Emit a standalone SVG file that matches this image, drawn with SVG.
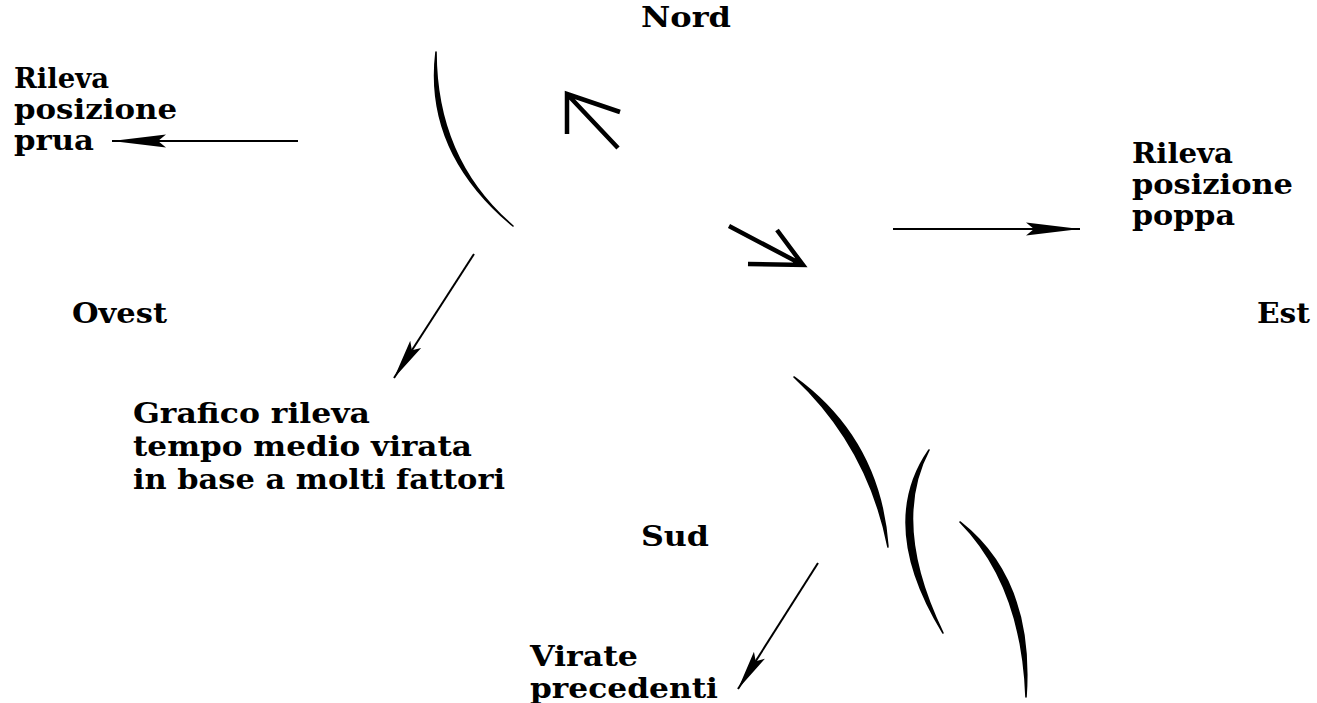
<svg xmlns="http://www.w3.org/2000/svg" width="1317" height="703" viewBox="0 0 1317 703">
<style>
text{font-family:"DejaVu Serif","Liberation Serif",serif;font-weight:bold;font-size:28px;fill:#000}
.thin{stroke:#000;stroke-width:2;fill:none}
.bold{stroke:#000;stroke-width:4.5;fill:none;stroke-linecap:butt}
.brush{fill:#000;stroke:#000;stroke-width:1.6;stroke-linejoin:round;stroke-linecap:round}
</style>
<defs>
<marker id="headL" markerUnits="userSpaceOnUse" markerWidth="60" markerHeight="16" viewBox="0 0 60 16" refX="56" refY="8" orient="auto">
<path d="M56,8 L2,1.5 L10,8 L2,14.5 Z" fill="#000"/>
</marker>
<marker id="headS" markerUnits="userSpaceOnUse" markerWidth="46" markerHeight="16" viewBox="0 0 46 16" refX="42" refY="8" orient="auto">
<path d="M42,8 L2,1.5 L9,8 L2,14.5 Z" fill="#000"/>
</marker>
</defs>
<rect width="1317" height="703" fill="#fff"/>
<g id="connectors">
<line class="thin" x1="298" y1="141" x2="112" y2="141" marker-end="url(#headL)"/>
<line class="thin" x1="893" y1="229" x2="1080" y2="229" marker-end="url(#headL)"/>
<line class="thin" x1="474" y1="254" x2="394" y2="378" marker-end="url(#headS)"/>
<line class="thin" x1="818" y1="563" x2="738" y2="689" marker-end="url(#headS)"/>
<path class="bold" d="M618,148 L567,94 M620,112 L567,94 L567,134"/>
<path class="bold" d="M729,226 L803,265 M777,230 L803,265 L748,264"/>
</g>
<g id="brush-strokes">
<path class="brush" d="M436,52 Q436,160 513,226 Q424,152 436,52 Z"/>
<path class="brush" d="M794,377 Q880,439 888,547 Q868,446 794,377 Z"/>
<path class="brush" d="M929,450 Q890,524 943,633 Q877,525 929,450 Z"/>
<path class="brush" d="M960,522 Q1034,580 1026,697 Q1022,585 960,522 Z"/>
</g>
<g id="nord"><text x="641" y="27" textLength="90" lengthAdjust="spacingAndGlyphs">Nord</text></g>
<g id="rileva-prua">
<text x="14" y="88" textLength="95" lengthAdjust="spacingAndGlyphs">Rileva</text>
<text x="14" y="119" textLength="163" lengthAdjust="spacingAndGlyphs">posizione</text>
<text x="14" y="150" textLength="80" lengthAdjust="spacingAndGlyphs">prua</text>
</g>
<g id="rileva-poppa">
<text x="1132" y="163" textLength="101" lengthAdjust="spacingAndGlyphs">Rileva</text>
<text x="1132" y="194" textLength="161" lengthAdjust="spacingAndGlyphs">posizione</text>
<text x="1132" y="225" textLength="103" lengthAdjust="spacingAndGlyphs">poppa</text>
</g>
<g id="ovest"><text x="72" y="323" textLength="95" lengthAdjust="spacingAndGlyphs">Ovest</text></g>
<g id="est"><text x="1257" y="323" textLength="53" lengthAdjust="spacingAndGlyphs">Est</text></g>
<g id="grafico">
<text x="133" y="423" textLength="237" lengthAdjust="spacingAndGlyphs">Grafico rileva</text>
<text x="133" y="456" textLength="339" lengthAdjust="spacingAndGlyphs">tempo medio virata</text>
<text x="133" y="489" textLength="372" lengthAdjust="spacingAndGlyphs">in base a molti fattori</text>
</g>
<g id="sud"><text x="641" y="546" textLength="68" lengthAdjust="spacingAndGlyphs">Sud</text></g>
<g id="virate">
<text x="530" y="666" textLength="108" lengthAdjust="spacingAndGlyphs">Virate</text>
<text x="530" y="698" textLength="188" lengthAdjust="spacingAndGlyphs">precedenti</text>
</g>
</svg>
